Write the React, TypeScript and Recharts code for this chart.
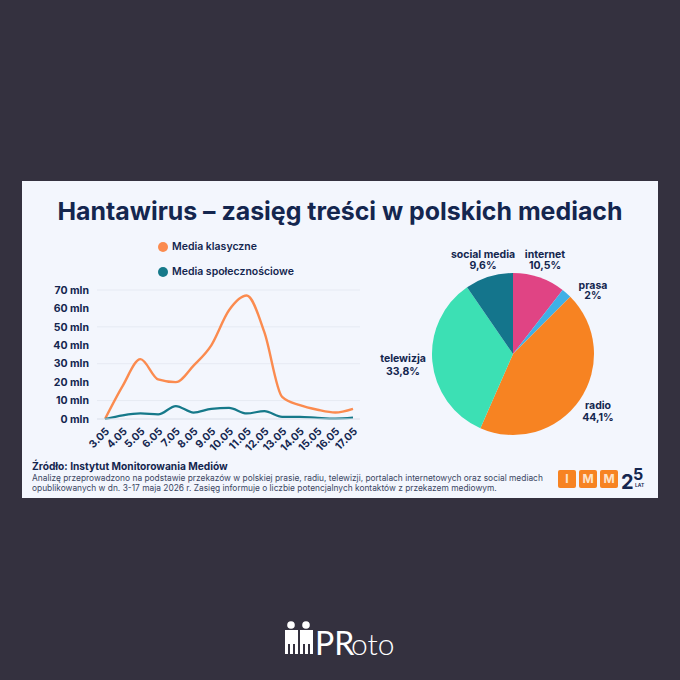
import React from 'react';
import { LineChart, Line, XAxis, YAxis, CartesianGrid, Legend, PieChart, Pie, Cell } from 'recharts';

const days = ['3.05', '4.05', '5.05', '6.05', '7.05', '8.05', '9.05', '10.05', '11.05', '12.05', '13.05', '14.05', '15.05', '16.05', '17.05'];
const classicMedia = [0, 18, 32.5, 21.5, 20, 29, 40, 59, 67, 47, 12, 7.5, 5, 3.5, 5.5];
const socialMedia = [0, 2, 3, 2.5, 7, 3.5, 5.5, 6, 3, 4.3, 1.2, 1.2, 0.6, 0.2, 0.7];
const yTicks = [0, 10, 20, 30, 40, 50, 60, 70];

const sliceNames = ['internet', 'prasa', 'radio', 'telewizja', 'social media'];
const sliceValues = [10.5, 2, 44.1, 33.8, 9.6];
const sliceColors = ['#e04484', '#3fb0e6', '#f78322', '#3ce0b4', '#14758c'];
// where each label sits, measured from the pie centre, and its line gap
const labelOffsets = [[32, -93], [80, -62], [85, 58], [-110, 11], [-30, -93]];
const labelGaps = [11, 10, 12, 13, 11];

const lineData = days.map((day, i) => ({ day, classic: classicMedia[i], social: socialMedia[i] }));
const pieData = sliceNames.map((name, i) => ({ name, value: sliceValues[i] }));

const NAVY = '#14264f';
const FONT = 'Inter, sans-serif';

function LegendContent({ payload }: any) {
	return (
		<div style={{ position: 'absolute', left: 128, top: 4 }}>
			{(payload || []).map((item: any) => (
				<div key={item.value} style={{ display: 'flex', alignItems: 'center', height: 25, fontSize: 10.5, fontWeight: 600, color: NAVY, fontFamily: FONT, whiteSpace: 'nowrap' }}>
					<span style={{ width: 10, height: 10, borderRadius: 5, background: item.color, marginRight: 4 }} />
					{item.value}
				</div>
			))}
		</div>
	);
}

function SliceLabel({ cx, cy, index }: any) {
	const [dx, dy] = labelOffsets[index];
	const percent = String(sliceValues[index]).replace('.', ',') + '%';
	return (
		<text x={cx + dx} y={cy + dy} textAnchor="middle" fill={NAVY} fontSize={10.5} fontWeight={700} fontFamily={FONT}>
			<tspan x={cx + dx} dy={-3}>{sliceNames[index]}</tspan>
			<tspan x={cx + dx} dy={labelGaps[index]}>{percent}</tspan>
		</text>
	);
}

function XTick({ x, y, payload }: any) {
	return (
		<text x={x + 5} y={y + 5} textAnchor="end" fill={NAVY} fontSize={10.5} fontWeight={700} fontFamily={FONT} transform={`rotate(-45 ${x + 5} ${y + 5})`}>
			{payload.value}
		</text>
	);
}

function Badge({ left, letter }: { left: number; letter: string }) {
	return (
		<div style={{ position: 'absolute', left, top: 470, width: 18, height: 18, borderRadius: 2, background: '#f78322', color: '#fde3cb', fontSize: 12, fontWeight: 700, lineHeight: '18px', textAlign: 'center', fontFamily: FONT }}>
			{letter}
		</div>
	);
}

function ProtoLogo() {
	return (
		<svg style={{ position: 'absolute', left: 280, top: 615 }} width={135} height={50}>
			{[0, 15].map((dx) => (
				<g key={dx} fill="#ffffff" transform={`translate(${dx} 0)`}>
					<circle cx={11} cy={10} r={3.8} />
					<rect x={5} y={15} width={13} height={14} />
					<rect x={5} y={15} width={3} height={24} />
					<rect x={10} y={15} width={3} height={24} />
					<rect x={15} y={15} width={3} height={24} />
				</g>
			))}
			<text x={35} y={40} fill="#ffffff" fontSize={32} fontWeight={400} fontFamily="Lato, sans-serif">PR</text>
			<text x={71} y={40} fill="#ffffff" fontSize={30} fontWeight={300} fontFamily="Lato, sans-serif">oto</text>
		</svg>
	);
}

export default function App() {
	return (
		<div style={{ position: 'fixed', left: 0, top: 0, width: 680, height: 680, background: '#34313f', overflow: 'hidden', fontFamily: FONT }}>
			<div style={{ position: 'absolute', left: 22, top: 181, width: 636, height: 317, background: '#f3f6fd' }} />
			<div style={{ position: 'absolute', left: 22, width: 636, top: 196, textAlign: 'center', fontSize: 24.9, fontWeight: 700, color: NAVY, whiteSpace: 'nowrap' }}>
				Hantawirus – zasięg treści w polskich mediach
			</div>

			<div style={{ position: 'absolute', left: 30, top: 230 }}>
				<LineChart width={340} height={240} data={lineData} margin={{ top: 60, right: 10, bottom: 0, left: 0 }}>
					<CartesianGrid vertical={false} stroke="#e6eaf3" strokeWidth={1} />
					<XAxis dataKey="day" interval={0} height={51} padding={{ left: 8, right: 7 }} tick={<XTick />} tickLine={false} axisLine={{ stroke: '#dfe4ee' }} />
					<YAxis width={67} domain={[0, 70]} ticks={yTicks} tickFormatter={(v: number) => `${v} mln`} tick={{ fill: NAVY, fontSize: 10.5, fontWeight: 700, fontFamily: FONT }} tickLine={false} axisLine={false} />
					<Legend verticalAlign="top" content={<LegendContent />} wrapperStyle={{ position: 'absolute', left: 0, top: 0, width: 340, height: 0 }} />
					<Line name="Media klasyczne" type="monotone" dataKey="classic" stroke="#fb8b4f" strokeWidth={2.4} dot={false} isAnimationActive={false} />
					<Line name="Media społecznościowe" type="monotone" dataKey="social" stroke="#16798a" strokeWidth={2.2} dot={false} isAnimationActive={false} />
				</LineChart>
			</div>

			<div style={{ position: 'absolute', left: 370, top: 235 }}>
				<PieChart width={270} height={240} margin={{ top: 0, right: 0, bottom: 0, left: 0 }}>
					<Pie data={pieData} dataKey="value" nameKey="name" cx={143} cy={119} outerRadius={81} startAngle={90} endAngle={-270} stroke="none" label={<SliceLabel />} labelLine={false} isAnimationActive={false}>
						{pieData.map((d, i) => (
							<Cell key={d.name} fill={sliceColors[i]} />
						))}
					</Pie>
				</PieChart>
			</div>

			<div style={{ position: 'absolute', left: 32, top: 460, fontSize: 10.2, fontWeight: 700, color: NAVY, whiteSpace: 'nowrap' }}>
				Źródło: Instytut Monitorowania Mediów
			</div>
			<div style={{ position: 'absolute', left: 32, top: 473, fontSize: 8.4, lineHeight: '10px', color: '#3b4663', whiteSpace: 'nowrap' }}>
				Analizę przeprowadzono na podstawie przekazów w polskiej prasie, radiu, telewizji, portalach internetowych oraz social mediach<br />
				opublikowanych w dn. 3-17 maja 2026 r. Zasięg informuje o liczbie potencjalnych kontaktów z przekazem mediowym.
			</div>

			<Badge left={558} letter="I" />
			<Badge left={579} letter="M" />
			<Badge left={600} letter="M" />
			<div style={{ position: 'absolute', left: 621, top: 472, fontSize: 20, fontWeight: 700, color: NAVY, lineHeight: '20px' }}>2</div>
			<div style={{ position: 'absolute', left: 633, top: 466, fontSize: 16, fontWeight: 700, color: NAVY, lineHeight: '16px' }}>5</div>
			<div style={{ position: 'absolute', left: 635, top: 482, fontSize: 5, fontWeight: 600, color: NAVY, lineHeight: '6px' }}>LAT</div>

			<ProtoLogo />
		</div>
	);
}
